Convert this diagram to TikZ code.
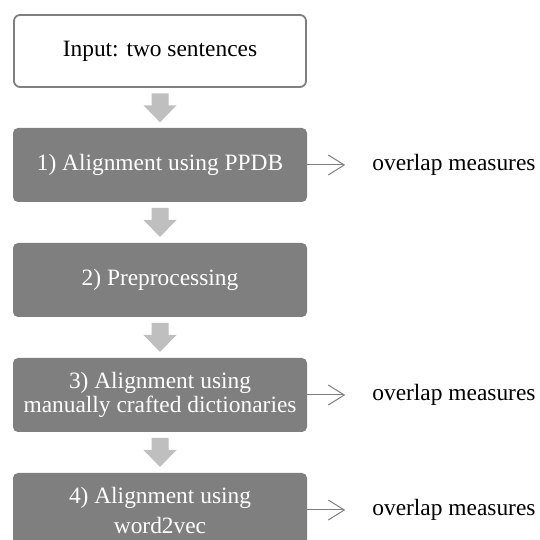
\documentclass[tikz,border=0pt]{standalone}
\usepackage{fontspec}
\setmainfont{Liberation Serif}
\usetikzlibrary{arrows.meta,calc}
\definecolor{stagegray}{HTML}{7F7F7F}
\definecolor{blockgray}{HTML}{BFBFBF}
\definecolor{linegray}{HTML}{7F7F7F}
\tikzset{
	stage/.style={rounded corners=5pt, fill=stagegray, text=white, minimum width=294pt, minimum height=74pt, align=center, inner sep=2pt},
	inputbox/.style={stage, rounded corners=6pt, fill=white, draw=linegray, line width=1.8pt, text=black, minimum width=292pt, minimum height=72pt},
	measure/.style={anchor=west, inner sep=0pt},
	sidearrow/.style={draw=linegray, line width=1pt, -{Straight Barb[length=16pt, width=20pt]}, shorten >=27pt}
}
\begin{document}
\begin{tikzpicture}[x=1pt, y=1pt, font=\fontsize{23.4}{24}\selectfont]
\path [use as bounding box] (0, 0) rectangle (539, 540);
\node [inputbox] (in) at (160, 489) {Input: two sentences};
\node [stage] (s1) at (160, 375) {1) Alignment using PPDB};
\node [stage] (s2) at (160, 260) {2) Preprocessing};
\node [stage] (s3) at (160, 145) {3) Alignment using\\manually crafted dictionaries};
\node [stage] (s4) at (160, 30) {4) Alignment using\\[6pt]word2vec};
\foreach \a/\b in {in/s1, s1/s2, s2/s3, s3/s4} {
	\fill [blockgray] ($(\a.south)!0.5!(\b.north)$) ++(-8.5, 14.5) -- ++(17, 0) -- ++(0, -12) -- ++(8, 0) -- ++(-16.5, -17) -- ++(-16.5, 17) -- ++(8, 0) -- cycle;
}
\foreach \st in {s1, s3, s4} {
	\node [measure] (m\st) at ($(\st.east) + (65, 0)$) {overlap measures};
	\draw [sidearrow] (\st.east) -- (m\st.west);
}
\end{tikzpicture}
\end{document}
